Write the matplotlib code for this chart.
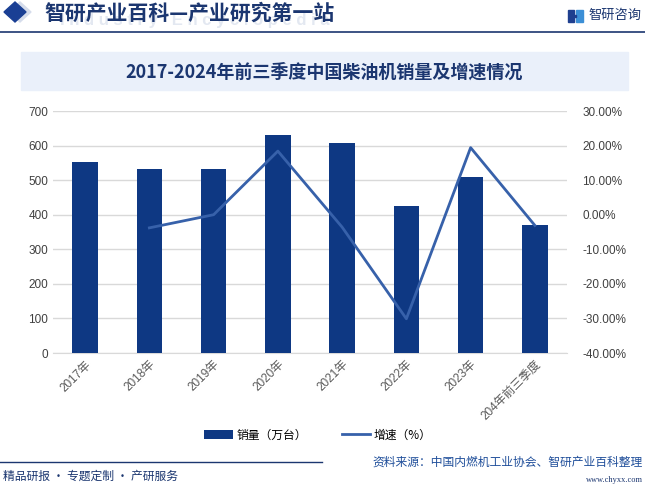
import matplotlib
matplotlib.use("Agg")
from matplotlib import pyplot as plt
from matplotlib.patches import Rectangle, Polygon
from matplotlib.lines import Line2D

plt.rcParams['font.family'] = ['Liberation Sans', 'Noto Sans CJK SC', 'DejaVu Sans']

# data
years = ["2017年", "2018年", "2019年", "2020年", "2021年", "2022年", "2023年", "204年前三季度"]
sales = [552, 532, 532, 631, 607, 425, 509, 370]          # 万台
growth = [None, -3.8, 0.0, 18.4, -3.6, -30.1, 19.4, -3.1]  # %

BAR = "#0E3883"
LINE = "#3761AA"
NAVY = "#1B3670"

fig = plt.figure(figsize=(6.45, 4.87), dpi=100)
W, H = 645, 487


def fx(px):
    return px / W


def fy(py):
    return 1 - py / H


# header
fig.add_artist(Polygon([[fx(20), fy(2)], [fx(31), fy(12)], [fx(20), fy(22)], [fx(9), fy(12)]],
                       closed=True, color="#D5DCEB", transform=fig.transFigure))
fig.add_artist(Polygon([[fx(15), fy(2)], [fx(26), fy(12)], [fx(15), fy(22)], [fx(4), fy(12)]],
                       closed=True, color="#1A3F94", transform=fig.transFigure))
fig.text(fx(60), fy(20), "I n d u s t r y   E n c y c l o p e d i a", fontsize=12,
         color="#E3E8F1", fontweight="bold", va="center", ha="left")
fig.text(fx(44), fy(13), "智研产业百科—产业研究第一站", fontsize=15, color=NAVY,
         fontweight="bold", va="center", ha="left", family=['Noto Sans CJK SC'])
# small logo icon
fig.add_artist(Rectangle((fx(568), fy(22)), fx(6), 12 / H, color="#1F3F8F", transform=fig.transFigure))
fig.add_artist(Rectangle((fx(576), fy(22)), fx(7), 12 / H, color="#3C8FD6", transform=fig.transFigure))
fig.add_artist(Rectangle((fx(574), fy(17)), fx(2), 2 / H, color="#1F3F8F", transform=fig.transFigure))
fig.text(fx(588), fy(15), "智研咨询", fontsize=9.5, color=NAVY, va="center", ha="left",
         family=['Noto Sans CJK SC'])
fig.add_artist(Line2D([0, 1], [fy(31.5), fy(31.5)], color=NAVY, lw=1.2, transform=fig.transFigure))

# title box
fig.add_artist(Rectangle((fx(21), fy(90)), fx(607), 38 / H, color="#EAF0FA", transform=fig.transFigure))
fig.text(fx(324), fy(72), "2017-2024年前三季度中国柴油机销量及增速情况", fontsize=13, color=NAVY,
         fontweight="bold", va="center", ha="center", family=['Noto Sans CJK SC'])

# chart
ax1 = fig.add_axes([fx(53), fy(353), fx(514), 242 / H])
x = list(range(len(years)))
ax1.bar(x, sales, width=0.40, color=BAR, zorder=3, label="销量（万台）")
ax1.set_ylim(0, 700)
ax1.set_xlim(-0.5, len(years) - 0.5)
ax1.set_yticks(range(0, 701, 100))
ax1.grid(axis="y", color="#D9D9D9", lw=1, zorder=0)
ax1.tick_params(axis="both", length=0, labelsize=8.5, colors="#404040")
ax1.set_xticks(x)
ax1.set_xticklabels(years, rotation=45, ha="right", rotation_mode="anchor", color="#595959", fontsize=8.5)
ax1.tick_params(axis="x", pad=4)
for s in ["top", "right", "left"]:
    ax1.spines[s].set_visible(False)
ax1.spines["bottom"].set_color("#D9D9D9")

ax2 = ax1.twinx()
gx = [i for i, g in zip(x, growth) if g is not None]
gy = [g for g in growth if g is not None]
ax2.plot(gx, gy, color=LINE, lw=2.0, zorder=4, label="增速（%）")
ax2.set_ylim(-40, 30)
ax2.set_yticks(range(-40, 31, 10))
ax2.set_yticklabels([f"{v:.2f}%" for v in range(-40, 31, 10)])
ax2.tick_params(axis="y", length=0, labelsize=8.5, colors="#404040", pad=11)
for s in ax2.spines.values():
    s.set_visible(False)

# legend
h1, l1 = ax1.get_legend_handles_labels()
h2, l2 = ax2.get_legend_handles_labels()
fig.legend(h1 + h2, l1 + l2, loc="center", bbox_to_anchor=(fx(318), fy(435)), ncol=2, frameon=False,
           handlelength=2.4, handleheight=0.7, columnspacing=3.0, handletextpad=0.3,
           prop={'family': ['Noto Sans CJK SC'], 'size': 8.5})

# footer
fig.add_artist(Line2D([0, fx(322)], [fy(462), fy(462)], color=NAVY, lw=1.0, transform=fig.transFigure))
fig.text(fx(3), fy(476), "精品研报 · 专题定制 · 产研服务", fontsize=8.5, color=NAVY, va="center", ha="left",
         family=['Noto Sans CJK SC'])
fig.text(fx(643), fy(462), "资料来源：中国内燃机工业协会、智研产业百科整理", fontsize=8.5, color="#1F4E9A",
         va="center", ha="right", family=['Noto Sans CJK SC'])
fig.text(fx(643), fy(480), "www.chyxx.com", fontsize=6, color=NAVY, va="center", ha="right",
         family=['Liberation Serif'])

fig.savefig("out.png", dpi=100)
